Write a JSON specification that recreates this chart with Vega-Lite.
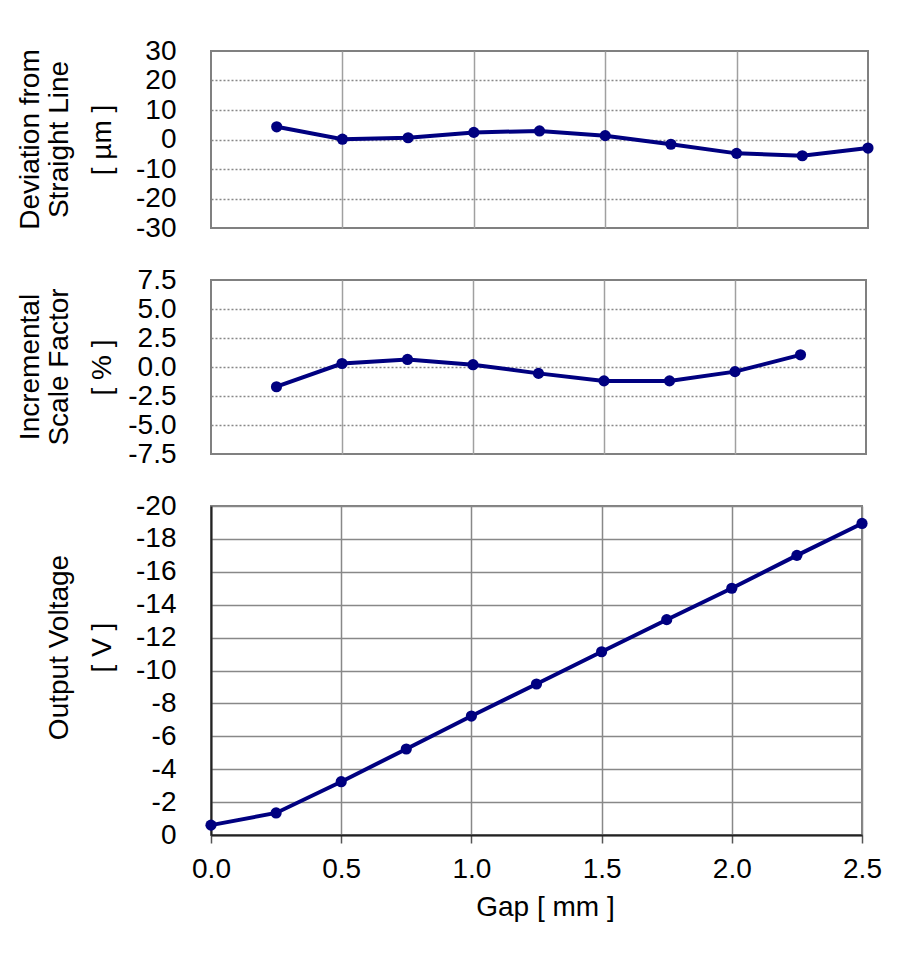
{
  "$schema": "https://vega.github.io/schema/vega-lite/v6.json",
  "padding": {"left": 16, "top": 36, "right": 5, "bottom": 5},
  "spacing": 52,
  "bounds": "flush",
  "config": {
    "font": "Liberation Sans",
    "view": {"stroke": "#808080", "strokeWidth": 2},
    "axis": {
      "labelFont": "Liberation Sans", "labelFontSize": 28, "labelColor": "#000",
      "titleFont": "Liberation Sans", "titleFontSize": 28, "titleFontWeight": "normal", "titleColor": "#000",
      "labelOverlap": false, "labelFlush": false, "labelBound": false
    },
    "title": {
      "font": "Liberation Sans", "fontSize": 28, "fontWeight": "normal", "color": "#000",
      "lineHeight": 29, "orient": "left", "anchor": "middle", "frame": "group", "offset": 14
    },
    "line": {"color": "#000080", "strokeWidth": 4},
    "point": {"color": "#000080", "filled": true, "size": 125, "opacity": 1}
  },
  "datasets": {
    "deviation": [
      {"gap": 0.25, "dev": 4.3}, {"gap": 0.5, "dev": 0.1}, {"gap": 0.75, "dev": 0.6},
      {"gap": 1.0, "dev": 2.4}, {"gap": 1.25, "dev": 2.9}, {"gap": 1.5, "dev": 1.3},
      {"gap": 1.75, "dev": -1.6}, {"gap": 2.0, "dev": -4.7}, {"gap": 2.25, "dev": -5.5},
      {"gap": 2.5, "dev": -2.9}
    ],
    "scale": [
      {"gap": 0.25, "isf": -1.7}, {"gap": 0.5, "isf": 0.3}, {"gap": 0.75, "isf": 0.65},
      {"gap": 1.0, "isf": 0.2}, {"gap": 1.25, "isf": -0.55}, {"gap": 1.5, "isf": -1.2},
      {"gap": 1.75, "isf": -1.2}, {"gap": 2.0, "isf": -0.4}, {"gap": 2.25, "isf": 1.05}
    ],
    "voltage": [
      {"gap": 0.0, "volt": -0.6}, {"gap": 0.25, "volt": -1.34}, {"gap": 0.5, "volt": -3.24},
      {"gap": 0.75, "volt": -5.23}, {"gap": 1.0, "volt": -7.23}, {"gap": 1.25, "volt": -9.18},
      {"gap": 1.5, "volt": -11.14}, {"gap": 1.75, "volt": -13.09}, {"gap": 2.0, "volt": -15.0},
      {"gap": 2.25, "volt": -17.0}, {"gap": 2.5, "volt": -18.94}
    ]
  },
  "vconcat": [
    {
      "width": 657, "height": 177,
      "title": {"text": ["Deviation from", "Straight Line"]},
      "data": {"name": "deviation"},
      "mark": {"type": "line", "point": true},
      "encoding": {
        "x": {"field": "gap", "type": "quantitative",
          "scale": {"domain": [0, 2.5], "nice": false},
          "axis": {"title": null, "labels": false, "ticks": false, "domain": false, "grid": true,
            "values": [0.5, 1, 1.5, 2], "gridColor": "#a0a0a0", "gridWidth": 1.5}},
        "y": {"field": "dev", "type": "quantitative",
          "scale": {"domain": [-30, 30], "nice": false},
          "axis": {"title": "[ µm ]", "titleX": -95, "values": [-30, -20, -10, 0, 10, 20, 30],
            "ticks": false, "tickSize": 0, "labelPadding": 35, "domain": false, "grid": true,
            "gridDash": [2, 2], "gridColor": "#888", "gridWidth": 1.5,
            "gridOpacity": {"condition": {"test": "abs(datum.value) == 30", "value": 0}, "value": 1},
            "labelExpr": "replace(datum.label, '−', '-')"}}
      }
    },
    {
      "width": 655, "height": 174,
      "title": {"text": ["Incremental", "Scale Factor"]},
      "data": {"name": "scale"},
      "mark": {"type": "line", "point": true},
      "encoding": {
        "x": {"field": "gap", "type": "quantitative",
          "scale": {"domain": [0, 2.5], "nice": false},
          "axis": {"title": null, "labels": false, "ticks": false, "domain": false, "grid": true,
            "values": [0.5, 1, 1.5, 2], "gridColor": "#a0a0a0", "gridWidth": 1.5}},
        "y": {"field": "isf", "type": "quantitative",
          "scale": {"domain": [-7.5, 7.5], "nice": false},
          "axis": {"title": "[ % ]", "titleX": -95, "values": [-7.5, -5, -2.5, 0, 2.5, 5, 7.5], "format": ".1f",
            "ticks": false, "tickSize": 0, "labelPadding": 35, "domain": false, "grid": true,
            "gridDash": [2, 2], "gridColor": "#888", "gridWidth": 1.5,
            "gridOpacity": {"condition": {"test": "abs(datum.value) == 7.5", "value": 0}, "value": 1},
            "labelExpr": "replace(datum.label, '−', '-')"}}
      }
    },
    {
      "width": 651, "height": 329,
      "title": {"text": "Output Voltage", "dx": 23},
      "data": {"name": "voltage"},
      "mark": {"type": "line", "point": true},
      "encoding": {
        "x": {"field": "gap", "type": "quantitative",
          "scale": {"domain": [0, 2.5], "nice": false},
          "axis": {"title": "Gap [ mm ]", "titleX": 334, "titlePadding": 10, "values": [0, 0.5, 1, 1.5, 2, 2.5], "format": ".1f",
            "tickSize": 8, "tickColor": "#555", "tickWidth": 1.5, "labelPadding": 12,
            "domainColor": "#222", "domainWidth": 2, "grid": true, "gridColor": "#888", "gridWidth": 1.5}},
        "y": {"field": "volt", "type": "quantitative",
          "scale": {"domain": [-20, 0], "reverse": true, "nice": false},
          "axis": {"title": "[ V ]", "titleX": -95, "titleY": 141,
            "values": [-20, -18, -16, -14, -12, -10, -8, -6, -4, -2, 0],
            "ticks": false, "tickSize": 0, "labelPadding": 35, "domainColor": "#222", "domainWidth": 2,
            "grid": true, "gridColor": "#888", "gridWidth": 1.5,
            "labelExpr": "replace(datum.label, '−', '-')"}}
      }
    }
  ]
}
